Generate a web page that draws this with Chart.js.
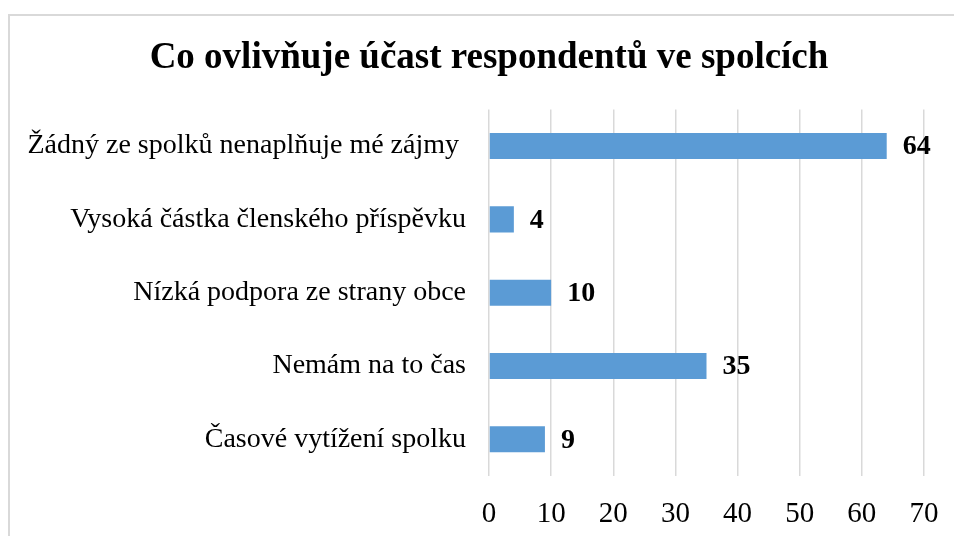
<!DOCTYPE html>
<html>
<head>
<meta charset="utf-8">
<script src="https://cdn.jsdelivr.net/npm/chart.js@4"></script>
<style>
  html, body { margin: 0; padding: 0; background: #fff; overflow: hidden; }
  #frame { position: absolute; left: 8px; top: 14px; width: 1000px; height: 600px; border: 2px solid #d9d9d9; }
  #wrap { position: absolute; left: 0; top: 0; width: 954px; height: 536px; }
</style>
</head>
<body>
<div id="frame"></div>
<div id="wrap"><canvas id="chart"></canvas></div>
<script>
// chart data
const categories = [
  "Žádný ze spolků nenaplňuje mé zájmy ",
  "Vysoká částka členského příspěvku",
  "Nízká podpora ze strany obce",
  "Nemám na to čas",
  "Časové vytížení spolku"
];
const counts = [64, 4, 10, 35, 9];
const xTicks = [0, 10, 20, 30, 40, 50, 60, 70];

const serif = "'Liberation Serif', 'Times New Roman', serif";

// draw value labels right of each bar
const valueLabels = {
  id: 'valueLabels',
  afterDatasetsDraw(chart) {
    const ctx = chart.ctx;
    const meta = chart.getDatasetMeta(0);
    ctx.save();
    ctx.font = "bold 28px " + serif;
    ctx.fillStyle = "#000";
    ctx.textAlign = "left";
    ctx.textBaseline = "middle";
    meta.data.forEach((bar, i) => {
      ctx.fillText(String(counts[i]), bar.x + 16, bar.y + 1);
    });
    ctx.restore();
  }
};

// title in the original sits a bit left of the plot centre
const shiftTitle = {
  id: 'shiftTitle',
  afterLayout(chart) {
    if (chart.titleBlock) chart.titleBlock.left = 54;
  }
};

const ctx = document.getElementById('chart').getContext('2d');
new Chart(ctx, {
  type: 'bar',
  data: {
    labels: categories,
    datasets: [{
      data: counts,
      backgroundColor: '#5b9bd5',
      barPercentage: 0.355,
      categoryPercentage: 1
    }]
  },
  options: {
    indexAxis: 'y',
    responsive: true,
    maintainAspectRatio: false,
    animation: false,
    layout: { padding: { left: 0, right: 30, top: 0, bottom: 0 } },
    plugins: {
      legend: { display: false },
      tooltip: { enabled: false },
      title: {
        display: true,
        text: 'Co ovlivňuje účast respondentů ve spolcích',
        color: '#000',
        font: { family: serif, size: 37, weight: 'bold' },
        padding: { top: 36, bottom: 29 }
      }
    },
    scales: {
      x: {
        min: 0,
        max: 70,
        afterBuildTicks: axis => { axis.ticks = xTicks.map(v => ({ value: v })); },
        afterFit: axis => { axis.height = 60; axis.paddingLeft = 0; axis.paddingRight = 0; },
        grid: { color: '#d9d9d9', lineWidth: 1.5, drawTicks: false },
        border: { display: false },
        ticks: { color: '#000', padding: 21, font: { family: serif, size: 29 } }
      },
      y: {
        afterFit: axis => { axis.width = 489; axis.paddingTop = 0; axis.paddingBottom = 0; },
        grid: { display: false, drawTicks: false },
        border: { display: false },
        ticks: { color: '#000', padding: 23, font: { family: serif, size: 28 } }
      }
    }
  },
  plugins: [valueLabels, shiftTitle]
});
</script>
</body>
</html>
